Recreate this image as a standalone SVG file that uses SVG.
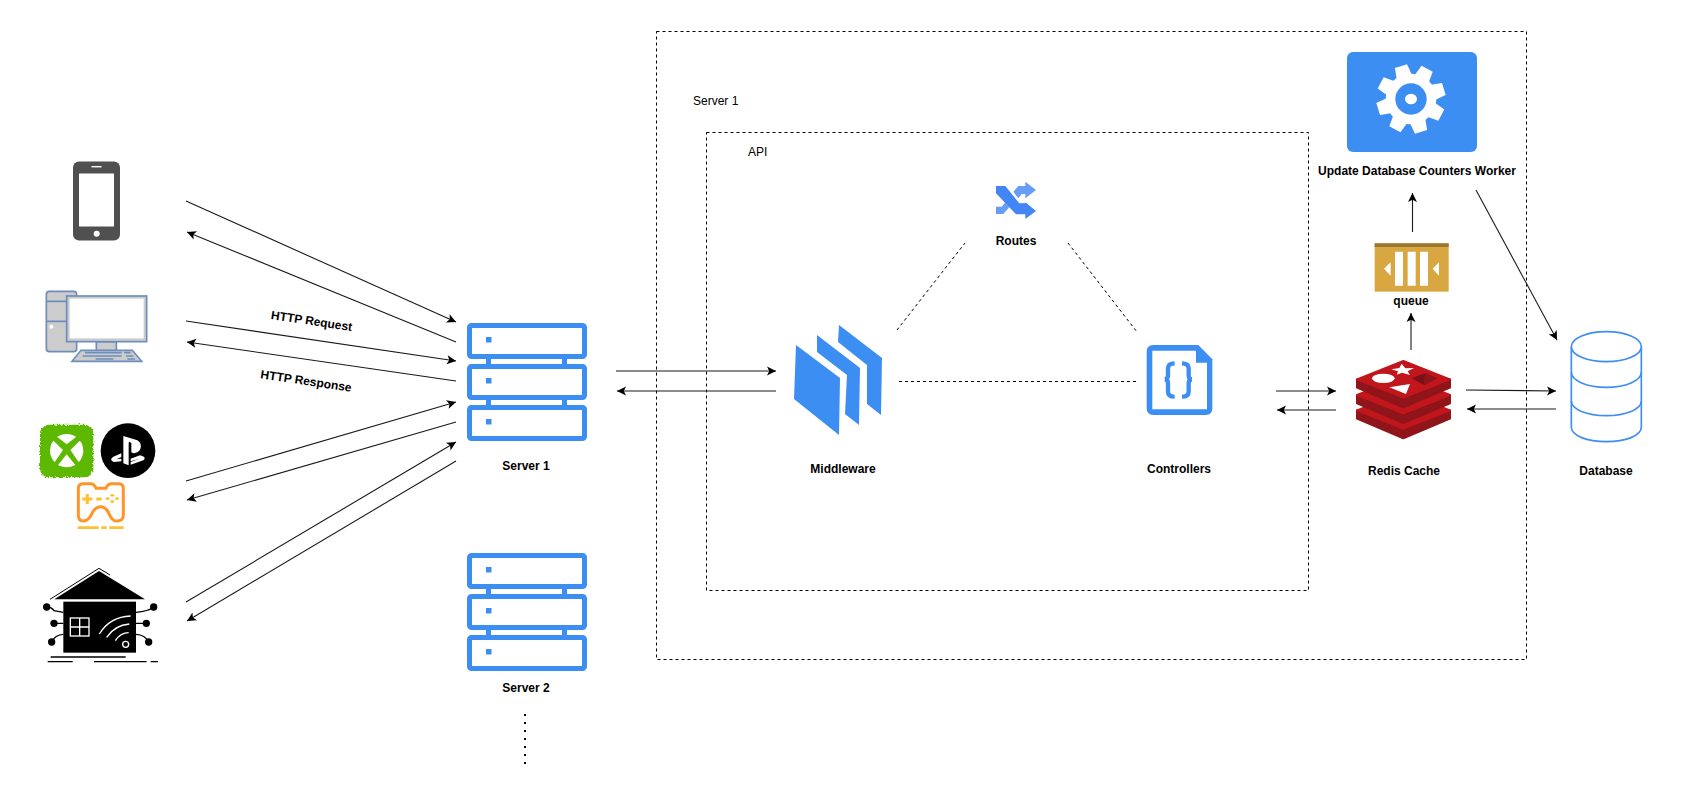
<svg xmlns="http://www.w3.org/2000/svg" xmlns:xlink="http://www.w3.org/1999/xlink" width="1690" height="800" viewBox="0 0 1690 800">
<style>
text{font-family:"Liberation Sans",Arial,sans-serif;font-size:12px;fill:#000}
.b{font-weight:bold;text-anchor:middle}
.c{fill:none;stroke:#1a1a1a;stroke-width:1.1;marker-end:url(#arr)}
.d{fill:none;stroke:#000;stroke-width:1;stroke-dasharray:3 3}
.blue{fill:#3d8ef3}
.top{fill:#c1161c;stroke:#c1161c;stroke-width:6;stroke-linejoin:round}
.side{fill:#8f151a;stroke:#8f151a;stroke-width:6;stroke-linejoin:round}
</style>
<defs>
<marker id="arr" markerUnits="userSpaceOnUse" markerWidth="12" markerHeight="12" refX="9" refY="4.500" orient="auto" overflow="visible"><path d="M0 0L9 4.500L0 9L2.200 4.500Z" fill="#000"/></marker>
<g id="srv">
<rect x="469.500" y="2.500" width="115" height="31" rx="2" fill="#fff" stroke="#3d8ef3" stroke-width="5"/>
<rect x="469.500" y="43.500" width="115" height="31" rx="2" fill="#fff" stroke="#3d8ef3" stroke-width="5"/>
<rect x="469.500" y="84.500" width="115" height="31" rx="2" fill="#fff" stroke="#3d8ef3" stroke-width="5"/>
<rect x="486" y="36" width="5" height="5" class="blue"/><rect x="562" y="36" width="5" height="5" class="blue"/>
<rect x="486" y="77" width="5" height="5" class="blue"/><rect x="562" y="77" width="5" height="5" class="blue"/>
<rect x="486" y="14" width="5.500" height="5.500" class="blue"/><rect x="486" y="55" width="5.500" height="5.500" class="blue"/><rect x="486" y="96" width="5.500" height="5.500" class="blue"/>
</g>
<filter id="fuzz" x="-10%" y="-10%" width="120%" height="120%"><feTurbulence type="fractalNoise" baseFrequency="0.5" numOctaves="1" seed="7"/><feDisplacementMap in="SourceGraphic" scale="16" xChannelSelector="R" yChannelSelector="G"/></filter>
<path id="tooth" d="M-24 -66L-19 -103H19L24 -66Z" fill="#fff"/>
<g id="layer">
<path class="side" d="M291 178L430 236L570 178V203L430 262L291 203Z"/>
<path class="top" d="M291 178L430 123L570 178L430 233Z"/>
</g>
</defs>

<g id="boxes">
<rect x="656.500" y="31.500" width="870" height="628" class="d" fill="none"/>
<rect x="706.500" y="132.500" width="602" height="458" class="d" fill="none"/>
<text x="693" y="105">Server 1</text>
<text x="748" y="156">API</text>
</g>

<g id="connectors">
<path class="c" d="M186 201L456 322"/>
<path class="c" d="M456 342L187 232"/>
<path class="c" d="M186 321L456 361"/>
<path class="c" d="M456 381L187 342"/>
<path class="c" d="M186 481L456 402"/>
<path class="c" d="M456 422L187 500"/>
<path class="c" d="M186 602L456 442"/>
<path class="c" d="M456 461L187 621"/>
<path class="c" d="M616 371L776 371"/>
<path class="c" d="M776 391L617 391"/>
<path class="d" d="M897 330L965 243"/>
<path class="d" d="M1068 243L1137 332"/>
<path class="d" d="M899 381.500L1137 381.500"/>
<path class="c" d="M1276 391L1336 391"/>
<path class="c" d="M1336 410L1277 410"/>
<path class="c" d="M1466 390L1556 391"/>
<path class="c" d="M1556 409L1467 409"/>
<path class="c" d="M1411 350L1411 313"/>
<path class="c" d="M1412.500 232L1412.500 193"/>
<path class="c" d="M1476 190L1557 340"/>
<text class="b" transform="translate(311 325) rotate(8.500)">HTTP Request</text>
<text class="b" transform="translate(305.500 385) rotate(8.500)">HTTP Response</text>
</g>

<g id="phone">
<rect x="73" y="161.500" width="47" height="79" rx="6" fill="#505050"/>
<rect x="79" y="173.500" width="35" height="53" fill="#fff"/>
<circle cx="96.700" cy="233.700" r="3" fill="#fff"/>
<rect x="91.500" y="166" width="10" height="1.400" fill="#fff"/>
</g>

<g id="desktop" transform="translate(0 140) scale(.33333)">
<rect x="139" y="454" width="91" height="181" rx="9" fill="#ccc" stroke="#6c8ebf" stroke-width="5"/>
<path d="M139 484H230M139 544H230" stroke="#6c8ebf" stroke-width="5"/>
<circle cx="154" cy="560" r="6" fill="#fff"/>
<rect x="289" y="605" width="60" height="27" fill="#ccc" stroke="#6c8ebf" stroke-width="5"/>
<rect x="200" y="468" width="240" height="137" fill="#ccc" stroke="#6c8ebf" stroke-width="5"/>
<rect x="209" y="476" width="222" height="119" fill="#fff"/>
<path d="M243 631H397L425 664H216Z" fill="#ccc" stroke="#6c8ebf" stroke-width="5"/>
<path d="M255 638H365M372 638H392M248 648H365M378 648H400M287 657H340M382 657H405" stroke="#6c8ebf" stroke-width="5"/>
</g>

<g id="consoles" transform="translate(0 400) scale(.33333)">
<rect x="120" y="74" width="160" height="158" rx="26" fill="#5cb900" filter="url(#fuzz)"/>
<rect x="126" y="80" width="148" height="146" rx="22" fill="#5cb900"/>
<circle cx="200" cy="152" r="50" fill="#fff"/>
<path d="M168 108L200 133L232 108L244 118L211 150L240 192L230 200L200 163L170 200L160 192L189 150L156 118Z" fill="#5cb900"/>
<circle cx="384" cy="152" r="82" fill="#000"/>
<path d="M370 108L412 121Q428 130 420 150Q408 165 394 157V130Q386 120 386 132V196L370 190Z" fill="#fff"/>
<path d="M364 160L340 170Q326 180 342 186L364 184V176L350 178L364 171Z" fill="#fff"/>
<path d="M392 176L420 166Q442 172 430 181L392 194V186L418 176L392 184Z" fill="#fff"/>
<path d="M248 251H273Q283 251 288 265H318Q322 251 335 251H357Q370 251 370 266V345Q370 364 350 363Q335 363 326 338Q316 320 302 320Q286 320 276 340Q266 363 250 363Q235 363 235 345V266Q235 251 248 251Z" fill="#fff" stroke="#ff9428" stroke-width="9"/>
<path d="M247 297H277M262 282V312M289 297H305" stroke="#ffc033" stroke-width="9" fill="none"/>
<ellipse cx="337" cy="286" rx="6" ry="4" fill="#ffc033"/><ellipse cx="337" cy="305" rx="6" ry="4" fill="#ffc033"/><ellipse cx="323" cy="296" rx="6" ry="4" fill="#ffc033"/><ellipse cx="351" cy="296" rx="6" ry="4" fill="#ffc033"/>
<path d="M233 383H296M304 383H320M328 383H371" stroke="#ffc033" stroke-width="8" fill="none"/>
</g>

<g id="home" transform="translate(0 400) scale(.33333)">
<path d="M163 598L297 513L435 598Z" fill="#000"/>
<path d="M150 598L297 505L330 525" fill="none" stroke="#000" stroke-width="3"/>
<rect x="190" y="605" width="218" height="153" fill="#000"/>
<rect x="211" y="654" width="56" height="54" fill="none" stroke="#fff" stroke-width="4"/>
<path d="M239 654V708M211 681H267" stroke="#fff" stroke-width="4"/>
<path d="M298 702Q330 650 392 648M320 712Q345 675 388 672M346 722Q362 698 386 698" fill="none" stroke="#fff" stroke-width="4"/>
<circle cx="377" cy="733" r="9" fill="none" stroke="#fff" stroke-width="4"/>
<path d="M140 621Q155 621 162 632L190 637M162 670H190M155 726Q165 704 190 703M461 621Q445 634 408 637M439 670H408M446 726Q435 704 408 703" fill="none" stroke="#000" stroke-width="4"/>
<circle cx="140" cy="621" r="11" fill="#000"/><circle cx="162" cy="670" r="11" fill="#000"/><circle cx="155" cy="726" r="11" fill="#000"/>
<circle cx="461" cy="621" r="11" fill="#000"/><circle cx="439" cy="670" r="11" fill="#000"/><circle cx="446" cy="726" r="11" fill="#000"/>
<path d="M152 771H377M143 785H218M282 785H440M452 785H474" stroke="#000" stroke-width="4"/>
</g>

<g id="server1">
<use xlink:href="#srv" href="#srv" y="323"/>
<text class="b" x="526" y="470">Server 1</text>
</g>
<g id="server2">
<use xlink:href="#srv" href="#srv" y="553"/>
<text class="b" x="526" y="692">Server 2</text>
</g>
<path id="more" d="M525 714V764" fill="none" stroke="#000" stroke-width="2" stroke-dasharray="2 6"/>

<g id="middleware">
<path class="blue" d="M796 345L840 378L839 435L794 399Z"/>
<path class="blue" d="M817 335L860 368L859 425L845 414L847 375L817 352Z"/>
<path class="blue" d="M839 325L882 358L881 415L867 404L867 365L838 342Z"/>
<text class="b" x="843" y="473">Middleware</text>
</g>

<g id="routes">
<g transform="translate(770 150) scale(.33333)">
<path d="M766 95L798 120L766 145V132H755L745 145L730 125L745 108H766Z" fill="#669df6"/>
<path d="M678 170H695L705 158L718 172L700 192H678Z" fill="#669df6"/>
<path d="M678 108H706L748 160H766V157L798 183L766 207V193H738L678 130Z" fill="#4285f4"/>
</g>
<text class="b" x="1016" y="245">Routes</text>
</g>

<g id="controllers">
<g transform="translate(770 150) scale(.33333)">
<path class="blue" d="M1150 585H1285L1327 628V775Q1327 795 1307 795H1150Q1130 795 1130 775V605Q1130 585 1150 585Z"/>
<path fill="#fff" d="M1147 602H1278V638H1311V778H1147Z"/>
<path d="M1214 640Q1194 640 1194 655V675Q1194 688 1184 688Q1194 688 1194 700V725Q1194 740 1214 740M1236 640Q1256 640 1256 655V675Q1256 688 1266 688Q1256 688 1256 700V725Q1256 740 1236 740" fill="none" stroke="#3d8ef3" stroke-width="13"/>
</g>
<text class="b" x="1179" y="473">Controllers</text>
</g>

<g id="worker">
<rect x="1347" y="52" width="130" height="100" rx="6" class="blue"/>
<g transform="translate(1411 99) scale(.33333)">
<circle r="76" fill="#fff"/>
<use xlink:href="#tooth" href="#tooth" transform="rotate(-17)"/>
<use xlink:href="#tooth" href="#tooth" transform="rotate(28)"/>
<use xlink:href="#tooth" href="#tooth" transform="rotate(73)"/>
<use xlink:href="#tooth" href="#tooth" transform="rotate(118)"/>
<use xlink:href="#tooth" href="#tooth" transform="rotate(163)"/>
<use xlink:href="#tooth" href="#tooth" transform="rotate(208)"/>
<use xlink:href="#tooth" href="#tooth" transform="rotate(253)"/>
<use xlink:href="#tooth" href="#tooth" transform="rotate(298)"/>
<circle r="47" class="blue"/>
<ellipse rx="18" ry="16" fill="#fff"/>
</g>
<text class="b" x="1417" y="175">Update Database Counters Worker</text>
</g>

<g id="queue">
<g transform="translate(1300 30) scale(.33333)">
<rect x="224" y="640" width="222" height="145" fill="#d9a741"/>
<rect x="224" y="640" width="222" height="11" fill="#997730"/>
<path d="M285 665h24v102h-24zM323 665h24v102h-24zM360 665h24v102h-24zM272 697L252 716L272 737ZM417 697L398 716L417 737Z" fill="#fff"/>
</g>
<text class="b" x="1411" y="305">queue</text>
</g>

<g id="redis">
<g transform="translate(1260 320) scale(.33333)">
<use xlink:href="#layer" href="#layer" y="93"/>
<use xlink:href="#layer" href="#layer" y="47"/>
<use xlink:href="#layer" href="#layer"/>
<path d="M425 131L436 145L462 144L443 154L450 165L426 158L410 164L414 154L394 148L418 144Z" fill="#fff"/>
<ellipse cx="370" cy="175" rx="34" ry="14" fill="#fff"/>
<path d="M388 202L450 192L438 222Z" fill="#fff"/>
<path d="M455 175L495 160L532 175L492 195Z" fill="#7a1116"/>
<path d="M495 160L532 175L492 195V178Z" fill="#8f151a"/>
</g>
<text class="b" x="1404" y="475">Redis Cache</text>
</g>

<g id="database">
<g transform="translate(1260 320) scale(.33333)" fill="#fff" stroke="#3d8ef3" stroke-width="5">
<path d="M934 80V322C934 347 981 365 1039 365C1097 365 1144 347 1144 322V80"/>
<ellipse cx="1039" cy="80" rx="105" ry="45"/>
<path d="M934 157C934 182 981 202 1039 202C1097 202 1144 182 1144 157M934 243C934 268 981 287 1039 287C1097 287 1144 268 1144 243" fill="none"/>
</g>
<text class="b" x="1606" y="475">Database</text>
</g>
</svg>
